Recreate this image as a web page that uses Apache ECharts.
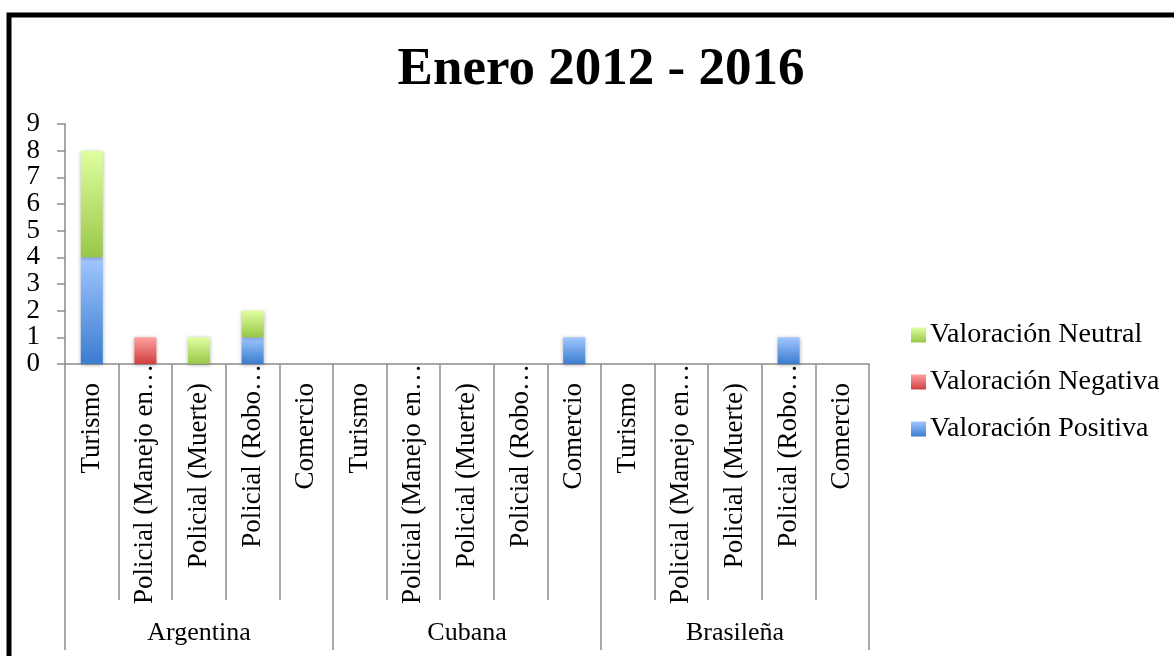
<!DOCTYPE html>
<html>
<head>
<meta charset="utf-8">
<script src="https://cdn.jsdelivr.net/npm/echarts@6/dist/echarts.min.js"></script>
<style>
html,body{margin:0;padding:0;background:#fff;}
#chart{width:1174px;height:656px;}
</style>
</head>
<body>
<div id="chart"></div>
<script>
const titleText = "Enero 2012 - 2016";
const groups = ["Argentina", "Cubana", "Brasileña"];
const subCategories = ["Turismo", "Policial (Manejo en…", "Policial (Muerte)", "Policial (Robo…", "Comercio"];
const seriesNames = ["Valoración Positiva", "Valoración Negativa", "Valoración Neutral"];
const legendOrder = ["Valoración Neutral", "Valoración Negativa", "Valoración Positiva"];
const positiva = [4, null, null, 1, null,  null, null, null, null, 1,  null, null, null, 1, null];
const negativa = [null, 1, null, null, null,  null, null, null, null, null,  null, null, null, null, null];
const neutral  = [4, null, 1, 1, null,  null, null, null, null, null,  null, null, null, null, null];
const yTicks = { min: 0, max: 9, interval: 1 };

const FONT = "Liberation Serif";
const categories = [];
groups.forEach(g => subCategories.forEach(s => {
  const truncated = s.endsWith('…');
  categories.push({ value: s, textStyle: { padding: truncated ? [0, 0, 0, 0] : [0, 19, 0, 0] } });
}));

function grad(top, bottom) {
  return new echarts.graphic.LinearGradient(0, 0, 0, 1, [
    { offset: 0, color: top }, { offset: 1, color: bottom }
  ]);
}
const colors = [
  grad('#a0c6ff', '#3b7ccf'),
  grad('#ffa0a0', '#d13f3f'),
  grad('#e0ffa0', '#98c648')
];
const dataSets = [positiva, negativa, neutral];

// y labels are split over two overlaid axes (even / odd) so that none is dropped for overlap
function yAxisDef(parity, main) {
  return {
    type: 'value',
    position: 'left',
    offset: 0,
    min: yTicks.min, max: yTicks.max, interval: yTicks.interval,
    splitLine: { show: false },
    axisLine: { show: main, onZero: false, lineStyle: { color: '#8c8c8c', width: 1.5 } },
    axisTick: { show: main, length: 8, lineStyle: { color: '#8c8c8c', width: 1.5 } },
    axisLabel: {
      margin: 25, showMinLabel: true, showMaxLabel: true, hideOverlap: false,
      formatter: v => (v % 2 === parity ? String(v) : ''),
      fontFamily: FONT, fontSize: 27, color: '#000'
    }
  };
}

const chart = echarts.init(document.getElementById('chart'));
chart.setOption({
  animation: false,
  backgroundColor: '#fff',
  title: {
    text: titleText,
    left: 596,
    textAlign: 'center',
    top: 39,
    textStyle: { fontFamily: FONT, fontWeight: 'bold', fontSize: 53, color: '#000' }
  },
  graphic: [{
    type: 'rect',
    shape: { x: 9, y: 15, width: 1220, height: 700 },
    style: { fill: 'none', stroke: '#000', lineWidth: 5 },
    z: 100
  }],
  legend: {
    orient: 'vertical',
    left: 906,
    top: 316,
    icon: 'rect',
    itemWidth: 15,
    itemHeight: 15,
    itemGap: 19,
    data: legendOrder,
    textStyle: { fontFamily: FONT, fontSize: 28, color: '#000', padding: [0, 0, 0, -1] }
  },
  grid: { left: 65, right: 305, top: 124, bottom: 292, containLabel: false },
  xAxis: [{
    type: 'category',
    data: categories,
    boundaryGap: true,
    axisLine: { show: true, onZero: false, lineStyle: { color: '#8c8c8c', width: 1.5 } },
    axisTick: { show: true, length: 236, interval: 0, alignWithLabel: false, lineStyle: { color: '#8c8c8c', width: 1.5 } },
    axisLabel: { interval: 0, rotate: 90, margin: 0, fontFamily: FONT, fontSize: 27, color: '#000' }
  }, {
    type: 'category',
    data: groups,
    position: 'bottom',
    offset: 236,
    boundaryGap: true,
    axisLine: { show: true, onZero: false, lineStyle: { color: '#8c8c8c', width: 1.5, opacity: 0 } },
    axisTick: { show: true, length: 50, interval: 0, alignWithLabel: false, lineStyle: { color: '#8c8c8c', width: 1.5 } },
    axisLabel: { interval: 0, margin: 20, fontFamily: FONT, fontSize: 26, color: '#000' }
  }],
  yAxis: [yAxisDef(0, true), yAxisDef(1, false)],
  series: seriesNames.map((name, i) => ({
    name,
    type: 'bar',
    stack: 'total',
    barWidth: 22,
    xAxisIndex: 0,
    yAxisIndex: 0,
    data: dataSets[i],
    itemStyle: {
      color: colors[i],
      shadowBlur: 4,
      shadowColor: 'rgba(0,0,0,0.3)',
      shadowOffsetY: 1
    }
  }))
});
</script>
</body>
</html>
